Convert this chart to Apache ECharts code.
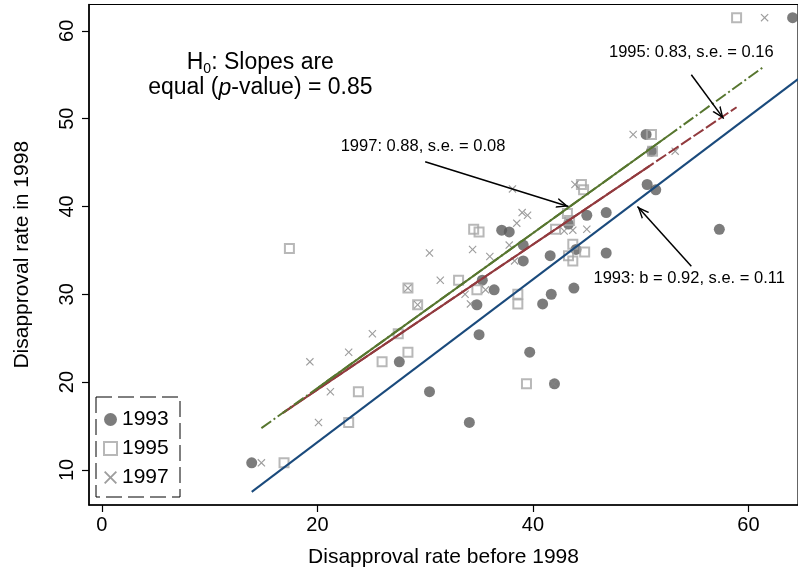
<!DOCTYPE html>
<html>
<head>
<meta charset="utf-8">
<script src="https://cdn.jsdelivr.net/npm/echarts@6/dist/echarts.min.js"></script>
<style>
html, body { margin: 0; padding: 0; background: #fff; }
#main { width: 798px; height: 573px; }
</style>
</head>
<body>
<div id="main"></div>
<script>
// disapproval rates, before 1998 (x) vs in 1998 (y)
var x1993 = [13.9, 27.6, 30.4, 34.1, 34.8, 35.0, 35.3, 36.4, 37.1, 37.8, 39.1, 39.1, 39.7, 40.9, 41.6, 41.7, 42.0, 43.8, 44.0, 45.0, 46.8, 46.8, 50.5, 51.0, 50.6, 51.4, 57.3, 64.1, 43.3];
var y1993 = [10.8, 22.3, 18.9, 15.4, 28.8, 25.4, 31.6, 30.5, 37.3, 37.1, 35.6, 33.8, 23.4, 28.9, 34.4, 30.0, 19.8, 30.7, 35.1, 39.0, 34.7, 39.3, 48.2, 46.3, 42.5, 41.9, 37.4, 61.5, 38.0];

var x1995 = [16.9, 17.4, 22.9, 23.8, 26.0, 27.5, 28.4, 28.4, 29.3, 33.1, 34.8, 34.5, 35.0, 38.6, 38.6, 39.4, 42.1, 43.2, 43.4, 43.7, 43.3, 43.7, 44.8, 44.5, 44.7, 51.0, 51.1, 58.9];
var y1995 = [10.8, 35.2, 15.4, 18.9, 22.3, 25.5, 23.4, 30.7, 28.8, 31.6, 30.5, 37.4, 37.1, 30.0, 28.9, 19.8, 37.4, 39.2, 38.4, 35.7, 34.4, 33.8, 34.8, 42.5, 41.9, 48.2, 46.3, 61.5];

var x1997 = [14.8, 19.3, 20.1, 21.2, 22.9, 25.1, 28.4, 29.3, 30.4, 31.4, 33.7, 34.2, 34.4, 35.6, 36.0, 37.8, 38.3, 38.1, 38.5, 39.0, 39.5, 42.9, 43.7, 45.0, 43.9, 41.9, 49.3, 53.2, 61.5];
var y1997 = [10.8, 22.3, 15.4, 18.9, 23.4, 25.5, 30.7, 28.8, 34.7, 31.6, 30.0, 28.9, 35.1, 30.5, 34.3, 35.6, 33.8, 42.0, 38.1, 39.3, 39.0, 37.2, 37.3, 37.4, 42.5, 19.8, 48.2, 46.3, 61.5];

// fitted lines
var fit1993 = [[13.9, 7.5], [64.6, 54.5]];
var fit1995 = [[16.8, 16.5], [50.8, 44.6], [58.9, 51.3]];
var fit1997 = [[14.8, 14.75], [20.1, 19.4], [52.5, 48.0], [61.3, 55.8]];

// notes and arrows
var noteText = ['1995: 0.83, s.e. = 0.16', '1997: 0.88, s.e. = 0.08', '1993: b = 0.92, s.e. = 0.11'];
var noteAt = [[54.7, 57.5], [29.8, 46.8], [54.5, 31.8]];
var arrowFrom = [[54.7, 55.0], [30.0, 45.1], [54.7, 33.2]];
var arrowTo = [[57.7, 50.0], [43.3, 40.0], [49.7, 40.0]];
var h0At = [14.7, 54.9];

var xTicks = [0, 20, 40, 60];
var yTicks = [10, 20, 30, 40, 50, 60];

var FONT = '"Liberation Sans", Arial, Helvetica, sans-serif';
var crossPath = 'path://M0,1 L1,0 L5,4 L9,0 L10,1 L6,5 L10,9 L9,10 L5,6 L1,10 L0,9 L4,5 Z';
var arrowHead = 'path://M5,0 L5.01,0 L5,0.01 Z M5,12 L10,24 L8.5,24 L5,15.6 L1.5,24 L0,24 Z';

function zip(xs, ys) {
	var out = [];
	for (var i = 0; i < xs.length; i++) out.push([xs[i], ys[i]]);
	return out;
}

var chart = echarts.init(document.getElementById('main'), null, { renderer: 'canvas' });

var arrows = [];
for (var i = 0; i < arrowFrom.length; i++) {
	arrows.push([{ coord: arrowFrom[i] }, { coord: arrowTo[i] }]);
}

var option = {
	animation: false,
	textStyle: { fontFamily: FONT },
	grid: {
		left: 89, right: 0, top: 4.5, bottom: 68,
		show: true, borderColor: '#000', borderWidth: 1.2
	},
	xAxis: {
		type: 'value',
		min: -1.2, max: 64.6,
		name: 'Disapproval rate before 1998',
		nameLocation: 'middle',
		nameGap: 42,
		nameTextStyle: { fontSize: 21, color: '#000', fontFamily: FONT },
		axisLine: { show: true, onZero: false, lineStyle: { color: '#000', width: 1.5 } },
		axisTick: { show: true, length: 7, customValues: xTicks, lineStyle: { color: '#000', width: 1.2 } },
		axisLabel: { customValues: xTicks, fontSize: 20, color: '#000', margin: 10, fontFamily: FONT },
		splitLine: { show: false }
	},
	yAxis: {
		type: 'value',
		min: 6.0, max: 63.0,
		name: 'Disapproval rate in 1998',
		nameLocation: 'middle',
		nameGap: 56,
		nameTextStyle: { fontSize: 21, color: '#000', fontFamily: FONT },
		axisLine: { show: true, onZero: false, lineStyle: { color: '#000', width: 1.5 } },
		axisTick: { show: true, length: 7, customValues: yTicks, lineStyle: { color: '#000', width: 1.2 } },
		axisLabel: { customValues: yTicks, fontSize: 20, color: '#000', rotate: 90, margin: 12, fontFamily: FONT },
		splitLine: { show: false }
	},
	legend: {
		orient: 'vertical',
		left: 98, top: 404,
		itemWidth: 13, itemHeight: 13, itemGap: 8,
		textStyle: { fontSize: 21, color: '#000', fontFamily: FONT },
		data: ['1993', '1995', '1997'],
		selectedMode: false
	},
	series: [
		{
			name: '1993', type: 'scatter', symbol: 'circle', symbolSize: 11,
			itemStyle: { color: '#5b5b5b' },
			data: zip(x1993, y1993)
		},
		{
			name: '1995', type: 'scatter', symbol: 'rect', symbolSize: 9,
			itemStyle: { color: 'rgba(255,255,255,0)', borderColor: '#a6a6a6', borderWidth: 2 },
			data: zip(x1995, y1995)
		},
		{
			name: '1997', type: 'scatter', symbol: crossPath, symbolSize: 8,
			itemStyle: { color: '#858585' },
			data: zip(x1997, y1997)
		},
		{
			type: 'line', showSymbol: false, silent: true,
			lineStyle: { color: '#1a4a7c', width: 2 },
			data: fit1993
		},
		{
			type: 'line', showSymbol: false, silent: true,
			lineStyle: { color: '#923a3e', width: 2, type: [12, 3] },
			data: fit1995
		},
		{
			type: 'line', showSymbol: false, silent: true,
			lineStyle: { color: '#923a3e', width: 2 },
			data: fit1995.slice(0, 2)
		},
		{
			type: 'line', showSymbol: false, silent: true,
			lineStyle: { color: '#57762f', width: 2, type: [12, 3, 2, 3] },
			data: fit1997
		},
		{
			type: 'line', showSymbol: false, silent: true,
			lineStyle: { color: '#57762f', width: 2 },
			data: fit1997.slice(1, 3),
			markLine: {
				silent: true,
				symbol: ['none', arrowHead],
				symbolSize: [10, 24],
				label: { show: false },
				lineStyle: { color: '#000', width: 1.5, type: 'solid' },
				data: arrows
			}
		}
	]
};

chart.setOption(option);

// text notes, placed at data coordinates
var graphics = [];
for (var j = 0; j < noteText.length; j++) {
	var p = chart.convertToPixel({ gridIndex: 0 }, noteAt[j]);
	graphics.push({
		type: 'text', x: p[0], y: p[1],
		style: { text: noteText[j], fontSize: 16.5, fontFamily: FONT, fill: '#000', align: 'center', verticalAlign: 'middle' }
	});
}
var h = chart.convertToPixel({ gridIndex: 0 }, h0At);
graphics.push({
	type: 'text', x: h[0], y: h[1],
	style: {
		text: '{n|H}{s|0}{n|: Slopes are}\n{n|equal (}{i|p}{n|-value) = 0.85}',
		align: 'center', verticalAlign: 'middle',
		rich: {
			n: { fontSize: 23, fontFamily: FONT, fill: '#000', lineHeight: 25 },
			i: { fontSize: 23, fontFamily: FONT, fontStyle: 'italic', fill: '#000', lineHeight: 25 },
			s: { fontSize: 14, fontFamily: FONT, fill: '#000', lineHeight: 25, padding: [13, 0, 0, 0] }
		}
	}
});
// dashed legend frame
graphics.push({
	type: 'rect',
	shape: { x: 96, y: 397, width: 84, height: 100 },
	style: { fill: 'none', stroke: '#000', lineWidth: 1, lineDash: [16, 6] }
});
chart.setOption({ graphic: graphics });
</script>
</body>
</html>
